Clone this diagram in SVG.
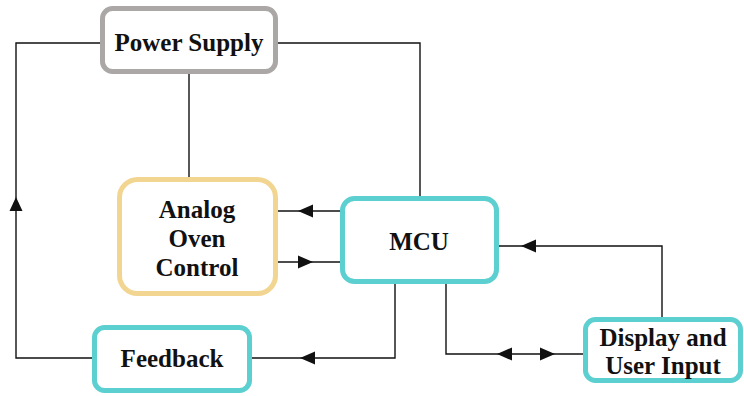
<svg xmlns="http://www.w3.org/2000/svg" width="744" height="396" viewBox="0 0 744 396">
<style>
.box{fill:#fff;stroke-width:5}
.gray{stroke:#aca7a7}
.yel{stroke:#f1d590}
.teal{stroke:#5ccfd0}
.lbl{font-family:'Liberation Serif','Times New Roman',serif;font-weight:bold;font-size:25px;fill:#111;text-anchor:middle}
.ln{fill:none;stroke:#111;stroke-width:1.4}
.ah{fill:#111}
</style>
<rect width="744" height="396" fill="#fff"/>
<g id="connectors">
<polyline class="ln" points="100,43 16,43 16,358 92,358"/>
<polyline class="ln" points="278,43 420,43 420,196"/>
<line class="ln" x1="189" y1="74" x2="189" y2="177"/>
<line class="ln" x1="278" y1="211" x2="340" y2="211"/>
<line class="ln" x1="278" y1="262" x2="340" y2="262"/>
<polyline class="ln" points="252,358 395,358 395,284"/>
<polyline class="ln" points="662,317 662,246 499,246"/>
<polyline class="ln" points="446,284 446,354 583,354"/>
<polygon class="ah" points="16,197 9.5,211 22.5,211"/>
<polygon class="ah" points="298,211 313,204.5 313,217.5"/>
<polygon class="ah" points="313,262 298,255.5 298,268.5"/>
<polygon class="ah" points="300,358 315,351.5 315,364.5"/>
<polygon class="ah" points="521,246 536,239.5 536,252.5"/>
<polygon class="ah" points="497,354 512,347.5 512,360.5"/>
<polygon class="ah" points="555,354 540,347.5 540,360.5"/>
</g>
<g id="power-supply">
<rect class="box gray" x="102.5" y="8.5" width="173" height="63" rx="10"/>
<text class="lbl" x="189" y="51">Power Supply</text>
</g>
<g id="analog-oven-control">
<rect class="box yel" x="119.5" y="179.5" width="156" height="114" rx="18"/>
<text class="lbl" x="197" y="218">Analog</text>
<text class="lbl" x="197" y="247">Oven</text>
<text class="lbl" x="197" y="276">Control</text>
</g>
<g id="mcu">
<rect class="box teal" x="342.5" y="198.5" width="154" height="83" rx="12"/>
<text class="lbl" x="419" y="250">MCU</text>
</g>
<g id="feedback">
<rect class="box teal" x="94.5" y="327.5" width="155" height="63" rx="10"/>
<text class="lbl" x="172" y="367">Feedback</text>
</g>
<g id="display-user-input">
<rect class="box teal" x="585.5" y="319.5" width="155" height="61" rx="10"/>
<text class="lbl" x="663" y="346">Display and</text>
<text class="lbl" x="663" y="374">User Input</text>
</g>
</svg>
